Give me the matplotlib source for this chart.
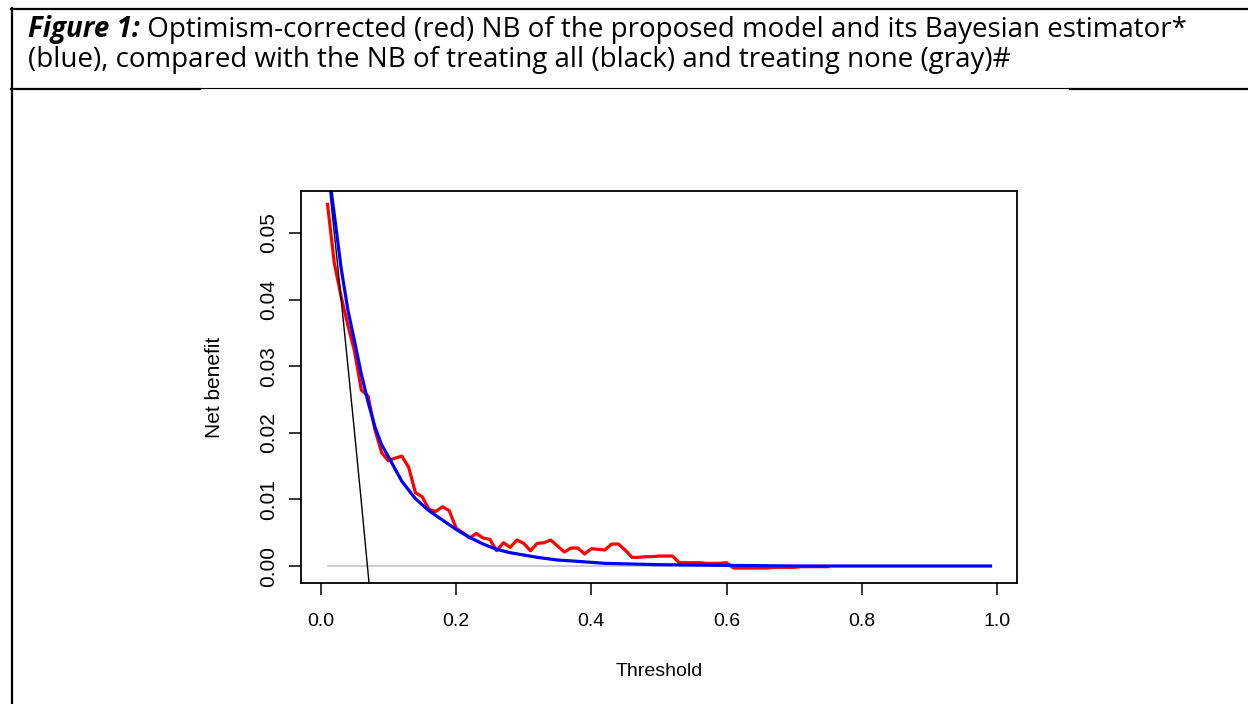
import numpy as np
import matplotlib
matplotlib.use("Agg")
import matplotlib.pyplot as plt
from matplotlib.lines import Line2D

# net benefit curves
red_t = [0.01, 0.02, 0.03, 0.04, 0.05, 0.06, 0.07, 0.08, 0.09, 0.10,
         0.11, 0.12, 0.13, 0.14, 0.15, 0.16, 0.17, 0.18, 0.19, 0.20,
         0.21, 0.22, 0.23, 0.24, 0.25, 0.26, 0.27, 0.28, 0.29, 0.30,
         0.31, 0.32, 0.33, 0.34, 0.35, 0.36, 0.37, 0.38, 0.39, 0.40,
         0.41, 0.42, 0.43, 0.44, 0.45, 0.46, 0.47, 0.48, 0.49, 0.50,
         0.51, 0.52, 0.53, 0.54, 0.55, 0.56, 0.57, 0.58, 0.59, 0.60,
         0.61, 0.62, 0.63, 0.64, 0.65, 0.66, 0.67, 0.68, 0.69, 0.70,
         0.71, 0.72, 0.73, 0.74, 0.75]
red_nb = [0.0543, 0.0455, 0.0405, 0.0362, 0.0322, 0.0264, 0.0255, 0.0205, 0.0170, 0.0158,
          0.0162, 0.0165, 0.0148, 0.0110, 0.0104, 0.0085, 0.0082, 0.0089, 0.0083, 0.0057,
          0.0050, 0.0042, 0.0049, 0.0042, 0.0040, 0.0023, 0.0035, 0.0028, 0.0039, 0.0034,
          0.0023, 0.0034, 0.0035, 0.0039, 0.0030, 0.0021, 0.0027, 0.0027, 0.0018, 0.0026,
          0.0025, 0.0024, 0.0033, 0.0033, 0.0024, 0.0013, 0.0013, 0.0014, 0.0014, 0.0015,
          0.0015, 0.0015, 0.0005, 0.0005, 0.0005, 0.0005, 0.0004, 0.0004, 0.0004, 0.0005,
          -0.0003, -0.0003, -0.0003, -0.0003, -0.0003, -0.0003, -0.0002, -0.0002, -0.0002, -0.0002,
          -0.0001, -0.0001, -0.0001, -0.0001, -0.0001]

blue_t = [0.01, 0.02, 0.03, 0.04, 0.05, 0.06, 0.07, 0.08, 0.09, 0.10,
          0.12, 0.14, 0.16, 0.18, 0.20, 0.22, 0.24, 0.26, 0.28, 0.30,
          0.32, 0.35, 0.38, 0.42, 0.46, 0.50, 0.55, 0.60, 0.65, 0.70, 0.99]
blue_nb = [0.0605, 0.0528, 0.0448, 0.0385, 0.0337, 0.0288, 0.0246, 0.0209, 0.0182, 0.0164,
           0.0127, 0.0101, 0.0083, 0.0069, 0.0055, 0.0043, 0.0033, 0.0025, 0.0020, 0.00165,
           0.0013, 0.0009, 0.0007, 0.0004, 0.0003, 0.0002, 0.00015, 0.0001, 0.00005, 0.0, 0.0]

all_t = [0.01, 0.02, 0.03, 0.04, 0.05, 0.06, 0.07, 0.08]
all_nb = [0.0596, 0.0500, 0.0402, 0.0302, 0.0200, 0.0096, -0.0011, -0.0120]

none_t = [0.01, 0.99]
none_nb = [0.0, 0.0]

xticks = [0.0, 0.2, 0.4, 0.6, 0.8, 1.0]
yticks = [0.00, 0.01, 0.02, 0.03, 0.04, 0.05]

W, H = 1248, 704
fig = plt.figure(figsize=(W / 100, H / 100), dpi=100)
fig.patch.set_facecolor("white")

# table borders around the caption
def hline(x0, x1, y, lw):
    fig.add_artist(Line2D([x0 / W, x1 / W], [1 - y / H, 1 - y / H], color="black", lw=lw))

hline(11, W, 9, 1.6)
hline(11, 200, 88.5, 1.6)
hline(200, 1070, 88, 0.8)
hline(1070, W, 88.5, 1.6)
fig.add_artist(Line2D([12 / W, 12 / W], [1 - 8 / H, 0], color="black", lw=1.6))

# caption: bold italic lead-in followed by normal text
title_font = "Open Sans"
fs = 14
renderer = fig.canvas.get_renderer()
t1 = fig.text(28 / W, 1 - 37 / H, "Figure 1:", fontsize=fs, family=title_font,
              weight="bold", style="italic", va="baseline")
bb = t1.get_window_extent(renderer)
t2 = fig.text(bb.x1 / W, 1 - 37 / H,
              " Optimism-corrected (red) NB of the proposed model and its Bayesian estimator*",
              fontsize=fs, family=title_font, va="baseline")
bb2 = t2.get_window_extent(renderer)
# fit line 1 to the width it has in the reference
scale = (1195 - 28) / (bb2.x1 - bb.x0)
fs = fs * scale
t1.set_fontsize(fs)
bb = t1.get_window_extent(renderer)
t2.set_fontsize(fs)
t2.set_x(bb.x1 / W)
fig.text(28 / W, 1 - 67 / H,
         "(blue), compared with the NB of treating all (black) and treating none (gray)#",
         fontsize=fs, family=title_font, va="baseline")

# plot region
ax = fig.add_axes([301 / W, 1 - 583 / H, (1017 - 301) / W, (583 - 191) / H])
ax.plot(none_t, none_nb, color="#BEBEBE", lw=1.1)
ax.plot(red_t, red_nb, color="#FF0000", lw=2.3)
ax.plot(all_t, all_nb, color="black", lw=1.0)
ax.plot(blue_t, blue_nb, color="#0000FF", lw=2.3)

ax.set_xlim(-0.0292, 1.0292)
ax.set_ylim(-0.00255, 0.0563)
ax.set_xticks(xticks)
ax.set_xticklabels(["%.1f" % v for v in xticks])
ax.set_yticks(yticks)
ax.set_yticklabels(["%.2f" % v for v in yticks], rotation=90, va="center")

for s in ax.spines.values():
    s.set_linewidth(1.3)
ax.tick_params(axis="both", direction="out", length=8.5, width=1.1,
               labelsize=14, colors="black")
ax.tick_params(axis="x", pad=13)
ax.tick_params(axis="y", pad=8, labelsize=15)
for lab in ax.get_xticklabels() + ax.get_yticklabels():
    lab.set_family("Liberation Sans")

ax.set_xlabel("Threshold", fontsize=14, family="Liberation Sans")
ax.set_ylabel("Net benefit", fontsize=15, family="Liberation Sans")
ax.xaxis.set_label_coords(0.5, -(671 - 583) / 392)
ax.xaxis.label.set_va("center")
ax.yaxis.set_label_coords((215 - 301) / 716, 0.5)
ax.yaxis.label.set_va("center")

fig.savefig("out.png", dpi=100)
